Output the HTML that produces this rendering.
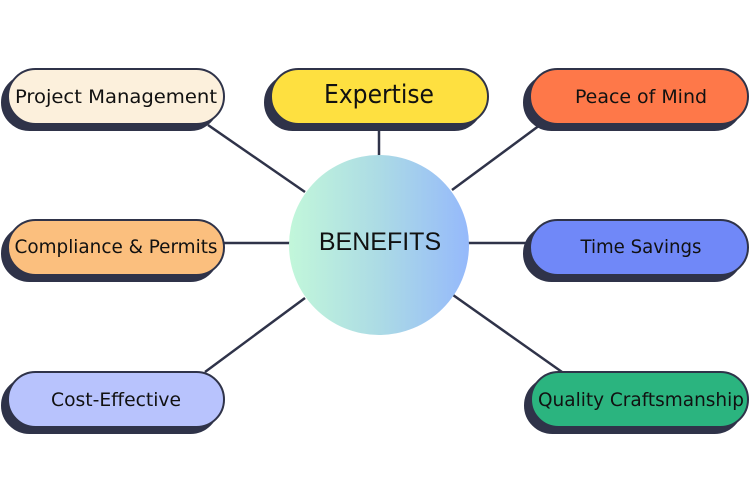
<!DOCTYPE html>
<html><head><meta charset="utf-8"><style>body{margin:0;background:#fff}svg{display:block}</style></head><body>
<svg width="750" height="500" viewBox="0 0 750 500" xmlns="http://www.w3.org/2000/svg">
<defs><linearGradient id="g" x1="0" x2="1" y1="0" y2="0"><stop offset="0" stop-color="#c2f7da"/><stop offset="0.5" stop-color="#acdbe5"/><stop offset="1" stop-color="#95b9fb"/></linearGradient></defs>
<g stroke="#2f3349" stroke-width="2.5">
<line x1="208" y1="125" x2="305" y2="192"/>
<line x1="379" y1="124" x2="379" y2="156"/>
<line x1="540" y1="125" x2="452" y2="190"/>
<line x1="224" y1="243" x2="290" y2="243"/>
<line x1="468" y1="243" x2="531" y2="243"/>
<line x1="305" y1="298" x2="205" y2="372"/>
<line x1="453" y1="295" x2="562" y2="372"/>
</g>
<circle cx="379" cy="245" r="90" fill="url(#g)"/>
<text x="380" y="250" font-family="Liberation Sans, sans-serif" font-size="25" text-anchor="middle" fill="#111">BENEFITS</text>
<g stroke="#2f3349" stroke-width="2">
<rect x="2" y="75" width="216" height="55" rx="27.5" fill="#2f3349"/>
<rect x="8" y="69" width="216" height="55" rx="27.5" fill="#fcf0dc"/>
<rect x="265" y="75" width="217" height="55" rx="27.5" fill="#2f3349"/>
<rect x="271" y="69" width="217" height="55" rx="27.5" fill="#fee040"/>
<rect x="524" y="75" width="218" height="55" rx="27.5" fill="#2f3349"/>
<rect x="530" y="69" width="218" height="55" rx="27.5" fill="#fe7849"/>
<rect x="2" y="226" width="216" height="55" rx="27.5" fill="#2f3349"/>
<rect x="8" y="220" width="216" height="55" rx="27.5" fill="#fbbf7e"/>
<rect x="524" y="226" width="218" height="55" rx="27.5" fill="#2f3349"/>
<rect x="530" y="220" width="218" height="55" rx="27.5" fill="#7088f8"/>
<rect x="2" y="378" width="216" height="55" rx="27.5" fill="#2f3349"/>
<rect x="8" y="372" width="216" height="55" rx="27.5" fill="#b8c3fd"/>
<rect x="525" y="378" width="217" height="55" rx="27.5" fill="#2f3349"/>
<rect x="531" y="372" width="217" height="55" rx="27.5" fill="#2bb47f"/>
</g>
<g font-family="DejaVu Sans Condensed, DejaVu Sans, sans-serif" font-size="19" text-anchor="middle" fill="#111">
<text x="116" y="103" textLength="202" lengthAdjust="spacingAndGlyphs">Project Management</text>
<text x="379" y="103" font-size="26" textLength="110" lengthAdjust="spacingAndGlyphs">Expertise</text>
<text x="641" y="103" textLength="132" lengthAdjust="spacingAndGlyphs">Peace of Mind</text>
<text x="116" y="253" textLength="203" lengthAdjust="spacingAndGlyphs">Compliance &amp; Permits</text>
<text x="641" y="253" textLength="121" lengthAdjust="spacingAndGlyphs">Time Savings</text>
<text x="116" y="406" textLength="130" lengthAdjust="spacingAndGlyphs">Cost-Effective</text>
<text x="641" y="406" textLength="206" lengthAdjust="spacingAndGlyphs">Quality Craftsmanship</text>
</g>
</svg>
</body></html>
